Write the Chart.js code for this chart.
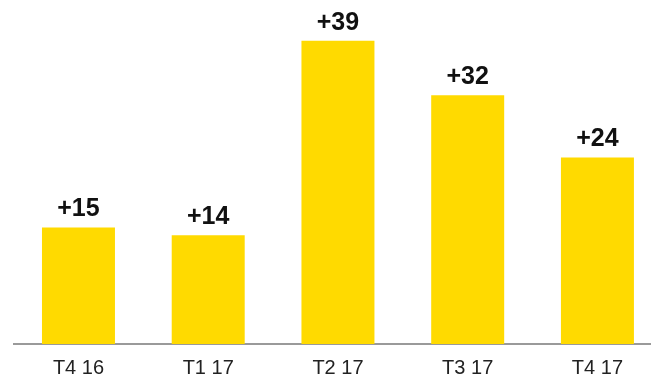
<!DOCTYPE html>
<html>
<head>
<meta charset="utf-8">
<script src="https://cdn.jsdelivr.net/npm/chart.js@4"></script>
<style>
  html, body { margin: 0; padding: 0; background: #fff; overflow: hidden; }
</style>
</head>
<body>
<canvas id="myChart" width="665" height="385"></canvas>
<script>
const quarters = ['T4 16', 'T1 17', 'T2 17', 'T3 17', 'T4 17'];
const growth = [15, 14, 39, 32, 24];
const growthLabels = ['+15', '+14', '+39', '+32', '+24'];

// draws the "+xx" text on top of each bar
const barLabels = {
  id: 'barLabels',
  afterDatasetsDraw(chart) {
    const ctx = chart.ctx;
    const meta = chart.getDatasetMeta(0);
    ctx.save();
    ctx.font = 'bold 25px "Liberation Sans", Arial, sans-serif';
    ctx.fillStyle = '#111';
    ctx.textAlign = 'center';
    ctx.textBaseline = 'alphabetic';
    meta.data.forEach((bar, i) => {
      ctx.fillText(growthLabels[i], bar.x, bar.y - 11);
    });
    ctx.restore();
  }
};

const paintGraph = (canvasName, AxisX, AxisY) => {
  const ctx = document.getElementById(canvasName);
  new Chart(ctx, {
    type: 'bar',
    data: {
      labels: AxisX,
      datasets: [{
        data: AxisY,
        backgroundColor: '#FFDA00',
        borderWidth: 0,
        categoryPercentage: 1,
        barPercentage: 0.5626
      }]
    },
    options: {
      responsive: false,
      animation: false,
      layout: { padding: { left: 13.6, right: 2.7, top: 2, bottom: 0 } },
      plugins: {
        legend: { display: false },
        tooltip: { enabled: false }
      },
      scales: {
        x: {
          grid: { display: false },
          border: { display: true, color: '#9a9a9a', width: 2 },
          ticks: {
            color: '#222',
            padding: 4.5,
            font: { family: '"Liberation Sans", Arial, sans-serif', size: 20 }
          }
        },
        y: {
          display: false,
          min: 0,
          max: 44
        }
      }
    },
    plugins: [barLabels]
  });
}
paintGraph('myChart', quarters, growth);
</script>
</body>
</html>
